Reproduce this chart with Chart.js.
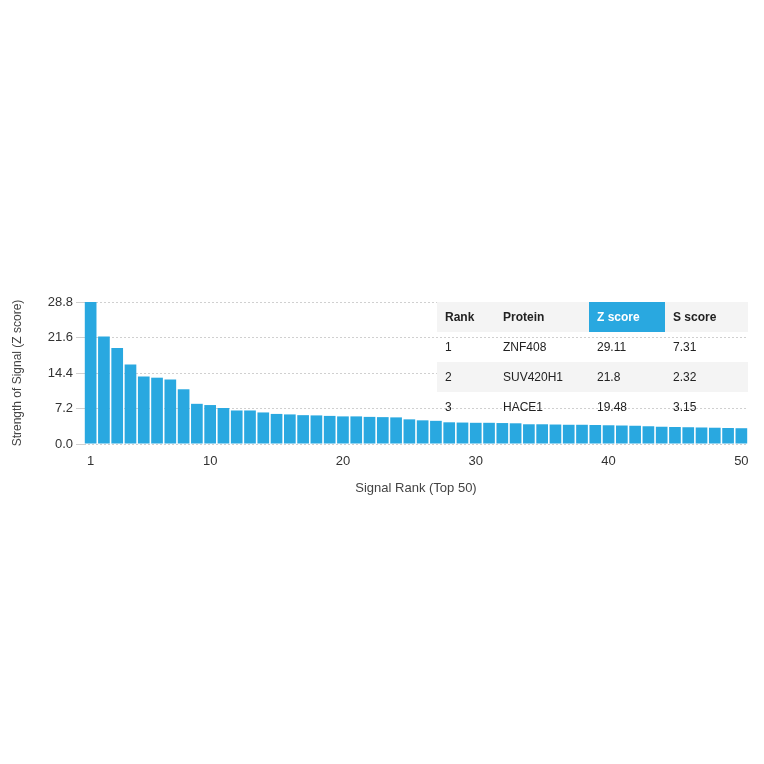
<!DOCTYPE html>
<html><head><meta charset="utf-8">
<script src="https://cdn.jsdelivr.net/npm/chart.js@4"></script>
<style>
body{margin:0;width:764px;height:764px;background:#fff;position:relative;font-family:"Liberation Sans",Arial,sans-serif;}
#wrap{position:absolute;left:0;top:290px;width:764px;height:210px;}
table{position:absolute;left:437px;top:302px;width:311px;border-collapse:collapse;font-size:12px;color:#222;}
td{height:30px;padding:0 0 0 8px;}
tr.g td{background:#f4f4f4;}
th{height:30px;padding:0 0 0 8px;text-align:left;font-weight:bold;background:#f4f4f4;font-size:12px;}
th.z{background:#29a8e0;color:#fff;}
</style></head><body>
<div id="wrap"><canvas id="c"></canvas></div>
<table>
<tr><th style="width:50px">Rank</th><th style="width:86px">Protein</th><th class="z" style="width:68px">Z score</th><th>S score</th></tr>
<tr><td>1</td><td>ZNF408</td><td>29.11</td><td>7.31</td></tr>
<tr class="g"><td>2</td><td>SUV420H1</td><td>21.8</td><td>2.32</td></tr>
<tr><td>3</td><td>HACE1</td><td>19.48</td><td>3.15</td></tr>
</table>
<script>
const ranks = Array.from({length:50},(_,i)=>String(i+1));
const zScores = [29.11,21.8,19.48,16.1,13.7,13.45,13.1,11.1,8.15,7.9,7.3,6.8,6.8,6.4,6.1,6.0,5.85,5.8,5.7,5.6,5.6,5.5,5.45,5.4,5.0,4.8,4.7,4.4,4.35,4.3,4.3,4.25,4.2,4.0,4.0,3.95,3.9,3.9,3.85,3.8,3.75,3.7,3.6,3.5,3.45,3.4,3.35,3.3,3.25,3.2];
const yTicks = [0,7.2,14.4,21.6,28.8];
const xLabelRanks = ["1","10","20","30","40","50"];
new Chart(document.getElementById('c'),{
 type:'bar',
 data:{labels:ranks,datasets:[{data:zScores,backgroundColor:'#29a8e0',barPercentage:1,categoryPercentage:0.88}]},
 options:{responsive:true,maintainAspectRatio:false,animation:false,
  layout:{padding:{left:10,right:16,top:12,bottom:0}},
  plugins:{legend:{display:false},tooltip:{enabled:false}},
  scales:{
   x:{grid:{display:false},border:{display:false},
      ticks:{autoSkip:false,maxRotation:0,color:'#333',font:{size:13},padding:2,
        callback:(v,i)=>xLabelRanks.includes(ranks[i])?ranks[i]:''},
      title:{display:true,text:'Signal Rank (Top 50)',color:'#444',font:{size:13},padding:{top:2}},
      afterFit:s=>{s.height=56;}},
   y:{min:0,max:28.8,afterBuildTicks:s=>{s.ticks=yTicks.map(v=>({value:v}));},
      grid:{color:'#d0d0d0',lineWidth:1},border:{display:false,dash:[2,2]},
      ticks:{color:'#333',font:{size:13},callback:v=>v.toFixed(1)},
      title:{display:true,text:'Strength of Signal (Z score)',color:'#444',font:{size:12},padding:0},
      afterFit:s=>{s.width=74;}}
  }}
});
</script>
</body></html>
